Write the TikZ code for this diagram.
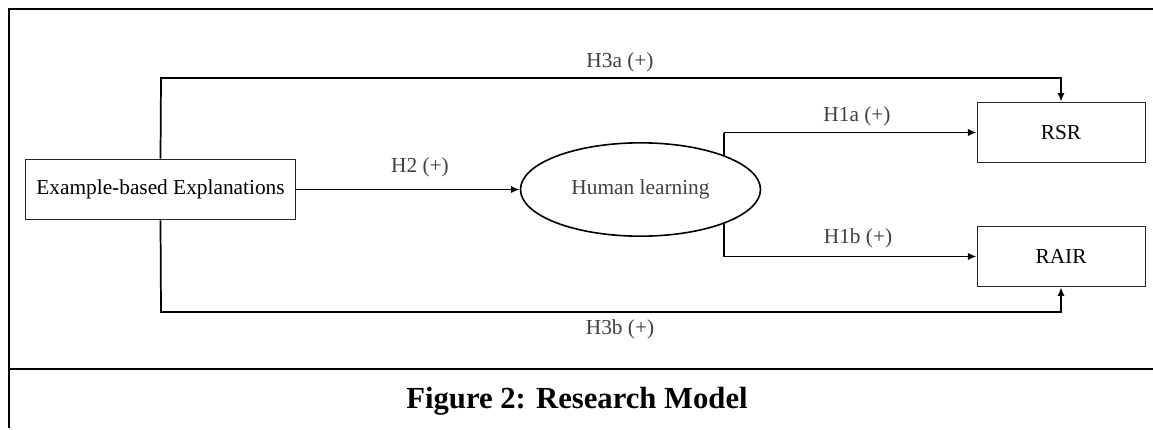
\documentclass[tikz,border=0pt]{standalone}
\usepackage{fontspec}
\setmainfont{Liberation Serif}
\usetikzlibrary{positioning, arrows.meta, shapes.geometric, backgrounds}

\begin{document}
\begin{tikzpicture}[x=0.75pt, y=-0.75pt,
    font=\fontsize{16}{19}\selectfont,
    varbox/.style={draw=black!85, line width=0.7pt, fill=white, minimum width=203pt, minimum height=45.5pt, inner sep=0pt},
    outbox/.style={draw=black!85, line width=0.7pt, fill=white, minimum width=126pt, minimum height=45.5pt, inner sep=0pt},
    medvar/.style={ellipse, draw=black, line width=1.2pt, fill=white, minimum width=180pt, minimum height=70pt, inner sep=0pt, text=black!75},
    link/.style={line width=1.3pt, -{Latex[length=6.5pt, width=5.5pt]}},
    hyplab/.style={text=black!75, inner sep=0pt},
    frameline/.style={line width=1.3pt},
  ]
  \useasboundingbox (0,0) rectangle (1153,429);

  % outer frame, open on the right, caption row below
  \draw[frameline] (1153,9) -- (9,9) -- (9,428);
  \draw[frameline] (9,369) -- (1153,369);

  % constructs
  \node[varbox] (ex) at (160.5,189.5) {Example-based Explanations};
  \node[medvar] (hl) at (640.5,189.5) {Human learning};
  \node[outbox] (rsr) at (1061,132.5) {RSR};
  \node[outbox] (rair) at (1061,256.5) {RAIR};

  % corners of the direct paths and the split after human learning
  \coordinate (topL) at (161,78);
  \coordinate (topR) at (1061,78);
  \coordinate (botL) at (161,312);
  \coordinate (botR) at (1061,312);
  \coordinate (spA) at (724,132.5);
  \coordinate (spB) at (724,256.5);

  \begin{pgfonlayer}{background}
    \draw[line width=1.3pt] (spA) -- (spB);
  \end{pgfonlayer}

  \draw[link] (ex.east) -- (hl.west);
  \draw[link] (spA) -- (rsr.west);
  \draw[link] (spB) -- (rair.west);
  \draw[link] (ex.north) -- (topL) -- (topR) -- (rsr.north);
  \draw[link] (ex.south) -- (botL) -- (botR) -- (rair.south);

  % hypothesis labels
  \node[hyplab] (h3a) at (620,62) {H3a (+)};
  \node[hyplab] (h2) at (420,167) {H2 (+)};
  \node[hyplab] (h1a) at (857,116) {H1a (+)};
  \node[hyplab] (h1b) at (858,238) {H1b (+)};
  \node[hyplab] (h3b) at (620,329) {H3b (+)};

  % caption
  \node[font=\fontsize{23}{27}\selectfont\bfseries] (cap) at (577,401) {Figure 2: Research Model};
\end{tikzpicture}
\end{document}
